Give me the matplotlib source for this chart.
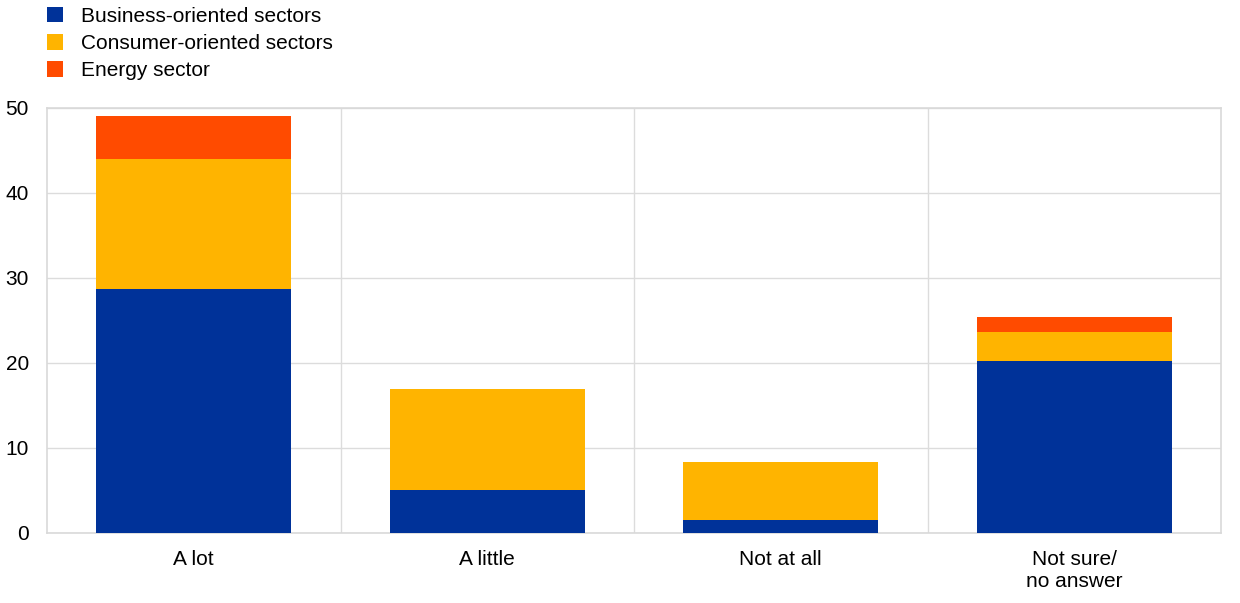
import matplotlib
matplotlib.use("Agg")
import matplotlib.pyplot as plt
from matplotlib.patches import Patch
import numpy as np

plt.rcParams['font.family'] = ['Liberation Sans', 'DejaVu Sans']

categories = ["A lot", "A little", "Not at all", "Not sure/\nno answer"]
business = [28.7, 5.0, 1.5, 20.2]
consumer = [15.3, 11.9, 6.9, 3.4]
energy = [5.1, 0.0, 0.0, 1.8]
series_names = ["Business-oriented sectors", "Consumer-oriented sectors", "Energy sector"]
colors = ["#003299", "#FFB400", "#FF4B00"]

fig = plt.figure(figsize=(12.4, 6.03), dpi=100)
ax = fig.add_axes([0.0379, 0.1161, 0.9468, 0.7048])

x = np.arange(len(categories))
w = 0.665
b = np.array(business)
c = np.array(consumer)
e = np.array(energy)
ax.bar(x, b, w, color=colors[0], zorder=3)
ax.bar(x, c, w, bottom=b, color=colors[1], zorder=3)
ax.bar(x, e, w, bottom=b + c, color=colors[2], zorder=3)

ax.set_xlim(-0.5, len(categories) - 0.5)
ax.set_ylim(0, 50)
ax.set_yticks(range(0, 51, 10))
ax.set_xticks(x)
ax.set_xticklabels(categories, fontsize=15, linespacing=1.25)
ax.tick_params(axis='y', labelsize=15, length=0, pad=13)
ax.tick_params(axis='x', length=0, pad=12)
ax.grid(axis='y', color='#dcdcdc', linewidth=1, zorder=0)
for xb in np.arange(0.5, len(categories) - 0.5, 1):
    ax.axvline(xb, color='#dcdcdc', linewidth=1, zorder=0)
for s in ax.spines.values():
    s.set_color('#d9d9d9')
    s.set_linewidth(1.2)

handles = [Patch(facecolor=col, edgecolor='none') for col in colors]
fig.legend(handles, series_names, loc='upper left', bbox_to_anchor=(0.031, 1.003),
           frameon=False, fontsize=15, handlelength=0.8, handleheight=0.8,
           handletextpad=0.85, labelspacing=0.38, borderaxespad=0)

fig.savefig("out.png", dpi=100)
